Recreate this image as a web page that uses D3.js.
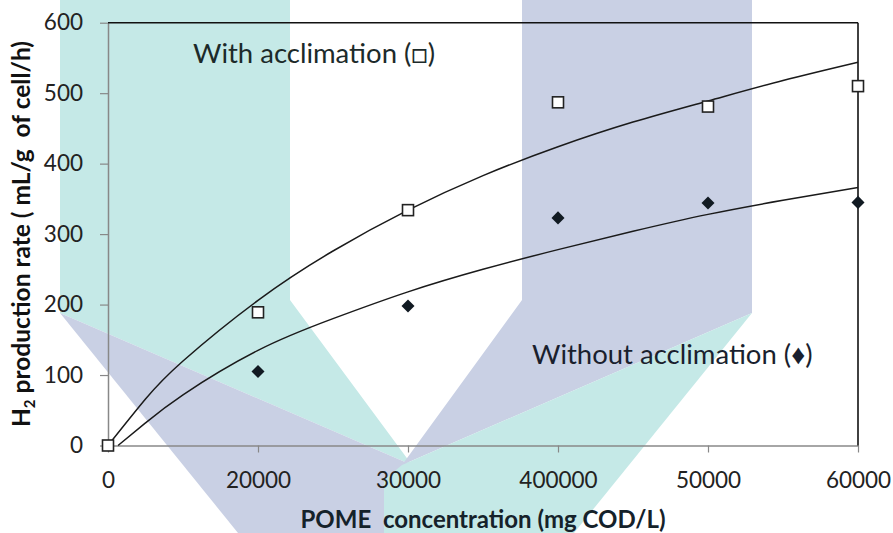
<!DOCTYPE html>
<html>
<head>
<meta charset="utf-8">
<script src="https://cdn.jsdelivr.net/npm/d3@7"></script>
<style>
  body { margin: 0; background: #fff; }
  text { font-family: Lato, "Open Sans", sans-serif; white-space: pre; }
</style>
</head>
<body>
<div id="chart"></div>
<script>
// tick labels along the bottom (400000 is how the original reads)
const xLabels = ["0", "20000", "30000", "400000", "50000", "60000"];
const yTicks = [0, 100, 200, 300, 400, 500, 600];

// measured points, x is the tick position 0..5
const withAccl = [[0, 0], [1, 189], [2, 334], [3, 487], [4, 481], [5, 510]];
const withoutAccl = [[1, 105], [2, 198], [3, 323], [4, 344], [5, 345]];

// the two fitted curves
const fitWith = [[0, 0], [0.25, 66], [0.5, 120], [1, 206], [1.5, 276], [2, 334], [2.5, 383],
                 [3, 424], [3.5, 459], [4, 489], [4.5, 518], [5, 544]];
const fitWithout = [[0.067, 0], [0.25, 32], [0.5, 72], [1, 135], [1.5, 180], [2, 218], [2.5, 250],
                    [3, 278], [3.5, 304], [4, 328], [4.5, 348], [5, 366]];

const margin = {top: 22.7, left: 108};
const visWidth = 750, visHeight = 422.8;

const svg = d3.select("#chart").append("svg")
  .attr("width", 893)
  .attr("height", 533);

// faint logo watermark behind the chart
const wm = svg.append("g");
const teal = "#c5e9e7", lilac = "#c9d0e4";
wm.append("polygon").attr("points", "60,0 290,0 290,300 412,465 60,313").attr("fill", teal);
wm.append("polygon").attr("points", "60,313 412,465 430,480 430,533 238,533").attr("fill", lilac);
wm.append("polygon").attr("points", "752,0 522,0 522,300 402,465 752,313").attr("fill", lilac);
wm.append("polygon").attr("points", "752,313 402,465 384,480 384,533 574,533").attr("fill", teal);

const g = svg.append("g")
  .attr("transform", `translate(${margin.left}, ${margin.top})`);

const x = d3.scaleLinear().domain([0, 5]).range([0, visWidth]);
const y = d3.scaleLinear().domain([0, 600]).range([visHeight, 0]);

// axes
const yAxis = g.append("g")
  .call(d3.axisLeft(y).tickValues(yTicks).tickSize(8).tickSizeOuter(0).tickPadding(17));
const xAxis = g.append("g")
  .attr("transform", `translate(0, ${visHeight})`)
  .call(d3.axisBottom(x).tickValues(d3.range(xLabels.length))
    .tickFormat(i => xLabels[i]).tickSize(7).tickSizeOuter(0).tickPadding(20));

[yAxis, xAxis].forEach(a => {
  a.select(".domain").attr("stroke", "#888").attr("stroke-width", 1.5);
  a.selectAll(".tick line").attr("stroke", "#888").attr("stroke-width", 1.2);
  a.selectAll("text").attr("font-size", "22.5px").attr("fill", "#222")
    .style("font-family", "Lato, sans-serif");
});

// top and right border
g.append("line")
  .attr("x1", x(0)).attr("x2", x(5)).attr("y1", y(600)).attr("y2", y(600))
  .attr("stroke", "#111").attr("stroke-width", 1.6);
g.append("line")
  .attr("x1", x(5)).attr("x2", x(5)).attr("y1", y(0)).attr("y2", y(600))
  .attr("stroke", "#111").attr("stroke-width", 1.6);

// fitted curves
const line = d3.line()
  .x(d => x(d[0]))
  .y(d => y(d[1]))
  .curve(d3.curveNatural);

[fitWith, fitWithout].forEach(f => {
  g.append("path")
    .attr("d", line(f))
    .attr("fill", "none")
    .attr("stroke", "#1a1a1a")
    .attr("stroke-width", 1.5);
});

// points
g.selectAll(".dia")
  .data(withoutAccl)
  .enter().append("path")
    .attr("d", d3.symbol(d3.symbolSquare, 85)())
    .attr("transform", d => `translate(${x(d[0])}, ${y(d[1])}) rotate(45)`)
    .attr("fill", "#111a22");

g.selectAll(".sq")
  .data(withAccl)
  .enter().append("rect")
    .attr("x", d => x(d[0]) - 5.5)
    .attr("y", d => y(d[1]) - 5.5)
    .attr("width", 11)
    .attr("height", 11)
    .attr("fill", "#fff")
    .attr("stroke", "#222")
    .attr("stroke-width", 1.6);

// labels inside the plot
svg.append("text")
  .attr("x", 193).attr("y", 63)
  .attr("font-size", "27.5px").attr("fill", "#1c2a2a")
  .text("With acclimation (\u25A1)");

svg.append("text")
  .attr("x", 532).attr("y", 364)
  .attr("font-size", "27.5px").attr("fill", "#1a1f2e")
  .text("Without acclimation (\u2666)");

// axis titles
const yt = svg.append("text")
  .attr("transform", "translate(30, 234) rotate(-90)")
  .attr("text-anchor", "middle")
  .attr("font-size", "24.5px")
  .attr("font-weight", "bold")
  .attr("fill", "#111");
yt.append("tspan").text("H");
yt.append("tspan").attr("font-size", "15px").attr("dy", 5).text("2");
yt.append("tspan").attr("dy", -5).text(" production rate ( mL/g  of cell/h)");

svg.append("text")
  .attr("x", 483).attr("y", 528)
  .attr("text-anchor", "middle")
  .attr("font-size", "24px")
  .attr("font-weight", "bold")
  .attr("fill", "#15222a")
  .text("POME  concentration (mg COD/L)");
</script>
</body>
</html>
